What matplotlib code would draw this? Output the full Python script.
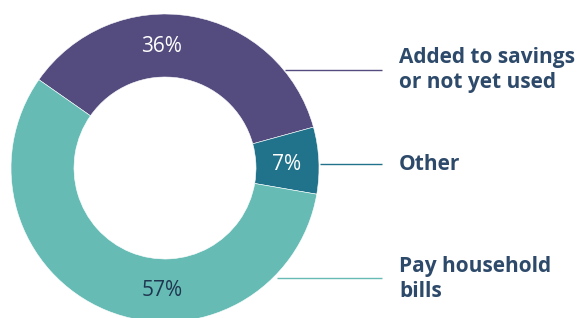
import matplotlib.pyplot as plt
import numpy as np

# dados do gráfico
categorias = ["Added to savings\nor not yet used", "Other", "Pay household\nbills"]
valores = [36, 7, 57]
rotulos = ["36%", "7%", "57%"]
cores = ["#544b7e", "#21738b", "#66bcb5"]
cor_rotulo = ["white", "white", "#1f3650"]

fig = plt.figure(figsize=(5.83, 3.18), dpi=100)
ax = fig.add_axes([0, 0, 1, 1])

# centro e raio em pixels
cx, cy = 165, 150
R, r_in = 154, 91

wedges, _ = ax.pie(valores, colors=cores, startangle=145, counterclock=False,
                   center=(cx, cy), radius=R,
                   wedgeprops=dict(width=R - r_in, edgecolor="white", linewidth=0.4))

ax.set_xlim(0, 583)
ax.set_ylim(0, 318)
ax.set_aspect("equal")
ax.axis("off")

# rótulos de percentagem (topo, direita, baixo)
pos_rot = [(162, 271), (287, 153), (162, 27)]
for txt, (x, y), c in zip(rotulos, pos_rot, cor_rotulo):
    ax.text(x, y, txt, ha="center", va="center", fontsize=15,
            color=c, family="Open Sans")

# linhas de chamada
y_linhas = [248, 154, 40]
x_ini = [285, 320, 277]
for yl, x0, c in zip(y_linhas, x_ini, cores):
    ax.plot([x0, 382], [yl, yl], color=c, lw=1.0, solid_capstyle="butt")

# textos da legenda (linha a linha, pela baseline)
base_y = [255, 148, 46]
for cat, yb in zip(categorias, base_y):
    for i, linha in enumerate(cat.split("\n")):
        ax.text(399, yb - 25 * i, linha, ha="left", va="baseline", fontsize=15,
                fontweight="bold", color="#2e4a6b", family="Open Sans")

plt.savefig("out.png", dpi=100)
